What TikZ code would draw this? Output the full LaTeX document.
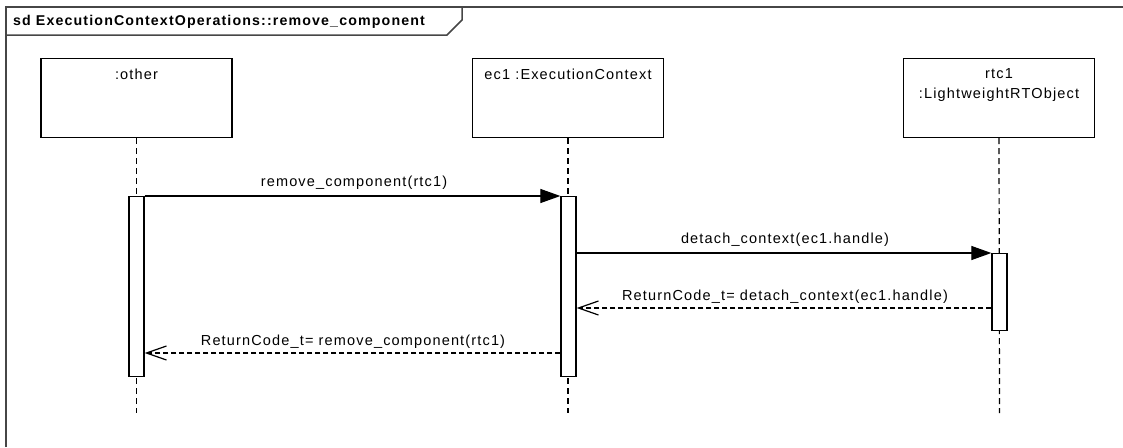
\documentclass[tikz,border=0pt]{standalone}
\usepackage{fontspec}
\setmainfont{Liberation Sans}[LetterSpace=8]
\usetikzlibrary{arrows.meta,calc}
\definecolor{framecol}{RGB}{70,70,70}
\begin{document}
\begin{tikzpicture}[x=1pt,y=-1pt,
  every node/.style={font=\fontsize{14.5}{19.5}\selectfont, inner sep=0pt},
  head/.style={draw, line width=1.4pt, minimum width=191pt, minimum height=79pt},
  act/.style={draw, fill=white, line width=1.3pt, minimum width=15pt, anchor=north},
  life/.style={dash pattern=on 6pt off 4pt, line width=1.2pt},
  call/.style={line width=1.2pt, -{Triangle[length=20pt,width=14pt]}},
  ret/.style={line width=1.2pt, dash pattern=on 5pt off 3pt, -{Straight Barb[length=20pt,width=14pt,line width=1.2pt]}}
]
\useasboundingbox (0,0) rectangle (1123,447);
% frame
\draw[framecol, line width=1.5pt] (6,447) -- (6,7) -- (1123,7);
\draw[framecol, line width=1.5pt] (6,35) -- (447,35) -- (462,20) -- (462,7);
\node[anchor=west, font=\bfseries\fontsize{14.2}{17}\selectfont] (title) at (13,22) {sd ExecutionContextOperations::remove\_component};
% heads
\node[head] (hO) at (136.5,98) {};
\node[head] (hE) at (568,98) {};
\node[head] (hR) at (999,98) {};
\node (tO) at (136.5,74) {:other};
\node (tE) at (568,74) {ec1 :ExecutionContext};
\node[align=center] (tR) at (999,85) {rtc1\\:LightweightRTObject};
% lifelines
\coordinate (eO) at (136.5,413);
\coordinate (eE) at (568,413);
\coordinate (eR) at (999.5,413);
\draw[life] (hO.south) -- (eO);
\draw[life] (hE.south) -- (eE);
\draw[life] (hR.south) -- (eR);
% activations
\node[act, minimum height=180pt] (aO) at (136.5,196) {};
\node[act, minimum height=180pt] (aE) at (568.5,196) {};
\node[act, minimum height=77pt] (aR) at (999.5,253) {};
% messages
\draw[call] (aO.north east) -- (aE.north west);
\node (l1) at (354,183) {remove\_component(rtc1)};
\draw[call] (aE.east |- aR.north) -- (aR.north west);
\node (l2) at (785,240) {detach\_context(ec1.handle)};
\coordinate (y3) at (0,308);
\draw[ret] (aR.west |- y3) -- (aE.east |- y3);
\node (l3) at (785,297) {ReturnCode\_t= detach\_context(ec1.handle)};
\coordinate (y4) at (0,353);
\draw[ret] (aE.west |- y4) -- (aO.east |- y4);
\node (l4) at (353,342) {ReturnCode\_t= remove\_component(rtc1)};
\end{tikzpicture}
\end{document}
